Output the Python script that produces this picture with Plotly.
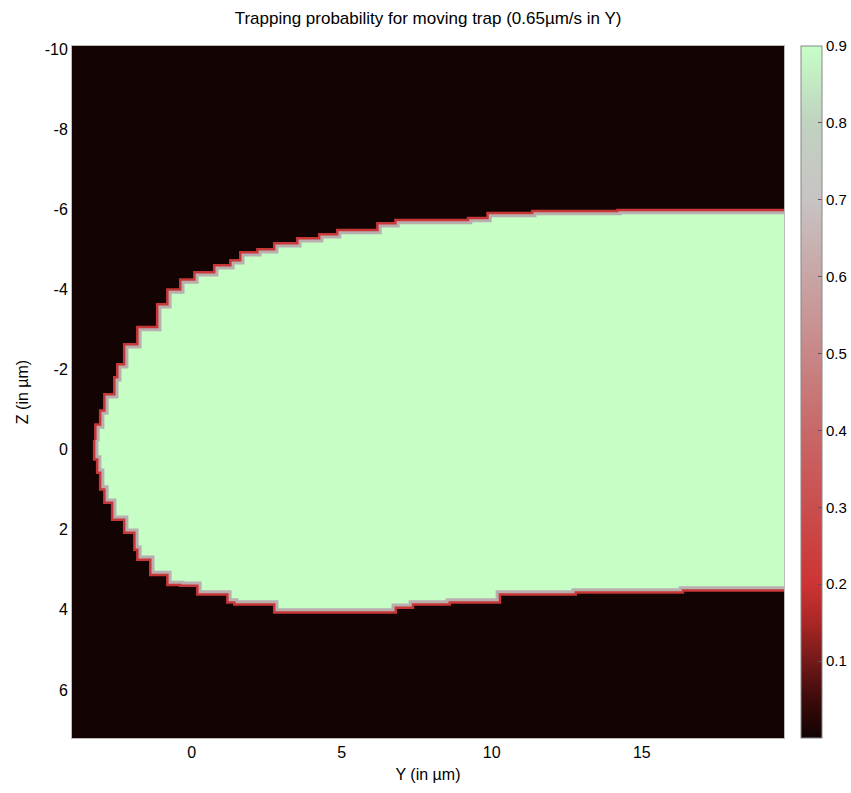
import plotly.graph_objects as go

# Boundary of the trapping region (Y, Z in µm)
top_y = [-3.16, -3.12, -2.96, -2.82, -2.49, -2.39, -2.16, -1.72, -1.06, -0.72, -0.29, 0.18, 0.84,
         1.38, 1.71, 2.28, 2.84, 3.61, 4.34, 4.94, 6.28, 6.88, 9.30, 9.95, 11.44, 14.28, 20.5]
top_z = [-0.24, -0.56, -0.91, -1.31, -1.74, -2.06, -2.56, -2.99, -3.56, -3.93, -4.18, -4.36, -4.53,
         -4.66, -4.86, -4.93, -5.08, -5.21, -5.31, -5.41, -5.58, -5.66, -5.71, -5.84, -5.89, -5.91, -5.91]
bot_y = [-3.06, -2.96, -2.82, -2.56, -2.16, -1.82, -1.72, -1.29, -0.72, -0.29, 0.28, 0.51, 1.28,
         1.51, 2.84, 3.04, 6.71, 7.28, 8.51, 10.18, 12.71, 16.28, 20.5]
bot_z = [0.18, 0.51, 0.93, 1.26, 1.68, 2.01, 2.43, 2.68, 3.06, 3.31, 3.33, 3.55, 3.55,
         3.75, 3.80, 4.00, 4.00, 3.88, 3.80, 3.75, 3.55, 3.50, 3.45]

cbar_vals = [0.1, 0.2, 0.3, 0.4, 0.5, 0.6, 0.7, 0.8, 0.9]
x_ticks = [0, 5, 10, 15]
y_ticks = [-10, -8, -6, -4, -2, 0, 2, 4, 6]

poly_y = top_y + bot_y[::-1] + [top_y[0]]
poly_z = top_z + bot_z[::-1] + [top_z[0]]

colorscale = [
    [0.0, "rgb(18,3,3)"],
    [0.05 / 0.9, "rgb(60,10,10)"],
    [0.1 / 0.9, "rgb(115,25,25)"],
    [0.15 / 0.9, "rgb(170,38,38)"],
    [0.2 / 0.9, "rgb(205,52,52)"],
    [0.3 / 0.9, "rgb(202,78,78)"],
    [0.4 / 0.9, "rgb(200,104,104)"],
    [0.5 / 0.9, "rgb(200,135,135)"],
    [0.6 / 0.9, "rgb(200,165,165)"],
    [0.7 / 0.9, "rgb(200,195,195)"],
    [0.8 / 0.9, "rgb(192,210,192)"],
    [1.0, "rgb(198,254,198)"],
]

font = "Liberation Sans, Arial, sans-serif"

fig = go.Figure()
# outer red band
fig.add_trace(go.Scatter(x=poly_y, y=poly_z, mode="lines", line_shape="hv",
                         line=dict(color="rgb(200,55,55)", width=8),
                         hoverinfo="skip", showlegend=False))
# inner region
fig.add_trace(go.Scatter(x=poly_y, y=poly_z, mode="lines", fill="toself", line_shape="hv",
                         fillcolor="rgb(198,254,198)",
                         line=dict(color="rgb(185,175,175)", width=3),
                         hoverinfo="skip", showlegend=False))
# colorbar carrier
fig.add_trace(go.Scatter(x=[-50, -50], y=[0, 0], mode="markers",
                         marker=dict(color=[0, 0.9], cmin=0, cmax=0.9, colorscale=colorscale,
                                     opacity=0, showscale=True,
                                     colorbar=dict(xref="container", x=801 / 851, xanchor="left",
                                                   yref="paper", y=0, yanchor="bottom",
                                                   len=1, lenmode="fraction", thickness=21,
                                                   outlinecolor="#888", outlinewidth=1, xpad=0, ypad=0,
                                                   tickvals=cbar_vals, ticktext=[str(v) for v in cbar_vals],
                                                   ticks="inside", ticklen=4, tickcolor="#555",
                                                   tickfont=dict(family=font, size=15, color="#000"))),
                         hoverinfo="skip", showlegend=False))

fig.update_layout(
    width=851, height=793,
    margin=dict(l=72, r=67, t=46, b=55, autoexpand=False),
    paper_bgcolor="white", plot_bgcolor="rgb(19,3,3)",
    title=dict(text="Trapping probability for moving trap (0.65µm/s in Y)",
               x=0.503, xanchor="center", y=0.977, yanchor="middle",
               font=dict(family=font, size=17, color="#000")),
    font=dict(family=font, size=16, color="#000"),
    xaxis=dict(range=[-3.99, 19.74], tickvals=x_ticks, ticktext=[str(v) for v in x_ticks],
               showgrid=False, zeroline=False,
               showline=True, linecolor="#bbb", linewidth=1, mirror=True, ticks="",
               title=dict(text="Y (in µm)", standoff=8, font=dict(size=16))),
    yaxis=dict(range=[7.2, -10.075], tickvals=y_ticks, ticktext=[str(v) for v in y_ticks],
               showgrid=False, zeroline=False,
               showline=True, linecolor="#bbb", linewidth=1, mirror=True, ticks="",
               title=dict(text="Z (in µm)", standoff=12, font=dict(size=16))),
)

fig.write_html("out.html")
